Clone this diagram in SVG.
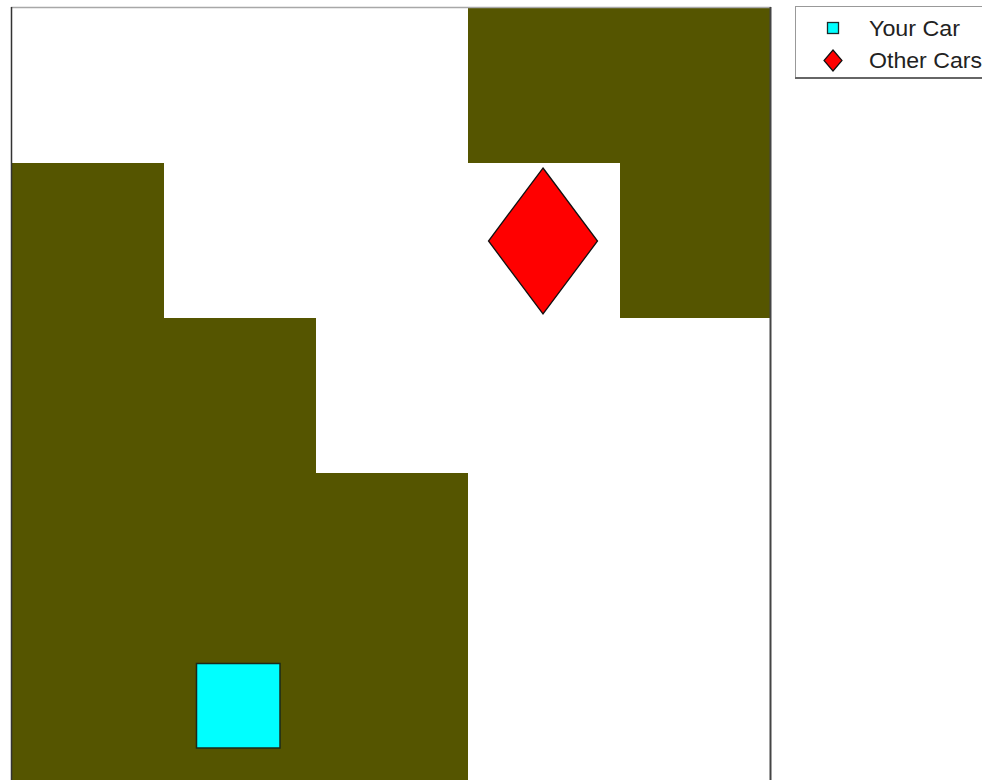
<svg xmlns="http://www.w3.org/2000/svg" width="982" height="780" viewBox="0 0 982 780">
  <style>
    .wall { fill: #555500; }
    .lbl { font-family: "Liberation Sans", Arial, sans-serif; font-size: 22px; fill: #222; }
  </style>
  <rect x="0" y="0" width="982" height="780" fill="#ffffff"/>
  <g id="grid">
    <path class="wall" d="M468 8 H770 V318 H620 V163 H468 Z"/>
    <path class="wall" d="M12 163 H164 V318 H316 V473 H468 V780 H12 Z"/>
  </g>
  <g id="axes" fill="none">
    <line x1="11" y1="7.5" x2="771" y2="7.5" stroke="#a8a8a8" stroke-width="1.5"/>
    <line x1="11.5" y1="7" x2="11.5" y2="780" stroke="#333" stroke-width="1.5"/>
    <line x1="770.5" y1="7" x2="770.5" y2="780" stroke="#444" stroke-width="2"/>
  </g>
  <g id="your-car">
    <rect x="196.5" y="663.5" width="83.5" height="84.5" fill="#00ffff" stroke="#1a2a1a" stroke-width="1.5"/>
  </g>
  <g id="other-car">
    <polygon points="543,168 597.5,241 543,314 488.5,241" fill="#ff0000" stroke="#111" stroke-width="1.3"/>
  </g>
  <g id="legend">
    <rect x="795.5" y="6.5" width="200" height="71" fill="#ffffff" stroke="#999" stroke-width="1"/>
    <line x1="795" y1="78" x2="982" y2="78" stroke="#666" stroke-width="2"/>
    <rect x="827.5" y="22.5" width="11" height="11" fill="#00ffff" stroke="#1a2a2a" stroke-width="1.3"/>
    <polygon points="833,50 842,60.5 833,71 824,60.5" fill="#ff0000" stroke="#111" stroke-width="1.2"/>
    <text class="lbl" x="869" y="35.7" textLength="91" lengthAdjust="spacingAndGlyphs">Your Car</text>
    <text class="lbl" x="869" y="68.3" textLength="113" lengthAdjust="spacingAndGlyphs">Other Cars</text>
  </g>
</svg>
